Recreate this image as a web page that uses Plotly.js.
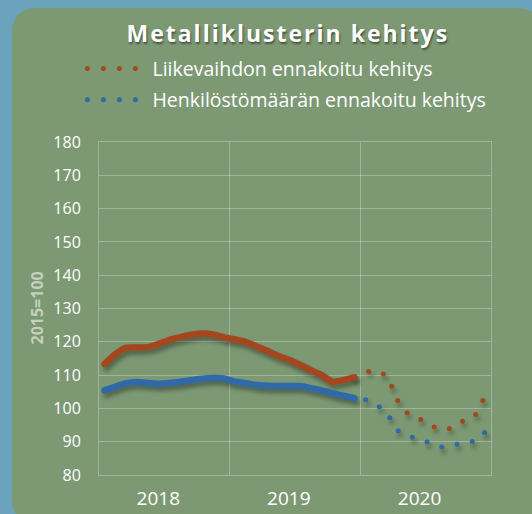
<!DOCTYPE html>
<html>
<head>
<meta charset="utf-8">
<script src="https://cdn.plot.ly/plotly-3.0.1.min.js"></script>
<style>
  html, body { margin: 0; padding: 0; background: #6ba3bd; overflow: hidden; }
  #panel {
    position: absolute; left: 12px; top: 8px; width: 530px; height: 515px;
    background: #7d9974; border-radius: 22px;
  }
  #chart { position: absolute; left: 0; top: 0; width: 532px; height: 514px; }
  .scatterlayer .js-line, .legendlines path { stroke-linecap: round; }
  .legendlines path { stroke-dasharray: 0 16 !important; }
  .scatterlayer .trace { filter: drop-shadow(2px 4px 2px rgba(0,0,0,0.35)); }
  .gtitle { letter-spacing: 2px; }
</style>
</head>
<body>
<div id="panel"></div>
<div id="chart"></div>
<script>
var monthNums = ['01', '02', '03', '04', '05', '06', '07', '08', '09', '10', '11', '12'];

// months of the history period (2018-2019) and forecast period (2020)
var histMonths = [];
['2018', '2019'].forEach(function (y) {
    monthNums.forEach(function (m) { histMonths.push(y + '-' + m); });
});
var foreMonths = monthNums.map(function (m) { return '2020-' + m; });

// Liikevaihto (turnover), 2015=100
var turnoverHist = [113.3, 116.2, 118.2, 118.3, 118.4, 119.3, 120.6, 121.4, 122.1, 122.5, 122.2, 121.3,
                    120.7, 120.0, 118.7, 117.3, 115.8, 114.6, 113.1, 111.5, 110.0, 108.0, 108.5, 109.3];
var turnoverFore = [111.0, 111.3, 109.8, 102.2, 98.0, 96.8, 94.7, 93.8, 94.0, 96.4, 97.5, 104.0];

// Henkilöstömäärä (personnel), 2015=100
var staffHist = [105.4, 106.5, 107.5, 107.9, 107.6, 107.4, 107.6, 108.0, 108.5, 108.9, 109.1, 109.0,
                 108.0, 107.6, 107.0, 106.8, 106.7, 106.7, 106.7, 106.1, 105.4, 104.5, 103.8, 103.1];
var staffFore = [102.6, 101.3, 98.5, 93.3, 91.7, 90.5, 89.4, 88.4, 89.0, 89.6, 90.2, 93.0];

var orange = '#a4471e';
var blue = '#2f69a8';
var dotted = '0px,15.5px';

var data = [
    {
        x: histMonths, y: turnoverHist, mode: 'lines', showlegend: false,
        xperiod: 'M1', xperiodalignment: 'middle',
        line: { color: orange, width: 6.5, shape: 'spline', smoothing: 0.4 }
    },
    {
        x: histMonths, y: staffHist, mode: 'lines', showlegend: false,
        xperiod: 'M1', xperiodalignment: 'middle',
        line: { color: blue, width: 6.5, shape: 'spline', smoothing: 0.4 }
    },
    {
        // forecast continues from the last actual month
        x: [histMonths[histMonths.length - 1]].concat(foreMonths),
        y: [turnoverHist[turnoverHist.length - 1]].concat(turnoverFore),
        mode: 'lines', name: 'Liikevaihdon ennakoitu kehitys', legendgroup: 'a',
        xperiod: 'M1', xperiodalignment: 'middle',
        line: { color: orange, width: 5, dash: dotted }
    },
    {
        x: foreMonths, y: staffFore,
        mode: 'lines', name: 'Henkilöstömäärän ennakoitu kehitys', legendgroup: 'b',
        xperiod: 'M1', xperiodalignment: 'middle',
        line: { color: blue, width: 5, dash: dotted }
    }
];

var gridColor = 'rgba(255,255,255,0.28)';

var layout = {
    width: 532,
    height: 514,
    margin: { l: 99, r: 41, t: 142, b: 39, autoexpand: false },
    paper_bgcolor: 'rgba(0,0,0,0)',
    plot_bgcolor: 'rgba(0,0,0,0)',
    font: { family: 'Open Sans, sans-serif', color: '#ffffff' },
    title: {
        text: '<b>Metalliklusterin kehitys</b>',
        x: 0.541, xanchor: 'center',
        y: 0.934, yanchor: 'middle',
        font: { size: 23, color: '#ffffff', shadow: '1px 2px 2px rgba(0,0,0,0.45)' }
    },
    legend: {
        xref: 'container', yref: 'container',
        x: 0.155, xanchor: 'left',
        y: 0.836, yanchor: 'middle',
        itemwidth: 60,
        tracegroupgap: 3,
        bgcolor: 'rgba(0,0,0,0)',
        font: { size: 19.5, color: '#ffffff' }
    },
    annotations: [{
        text: '<b>2015=100</b>',
        xref: 'paper', yref: 'paper',
        x: -0.1607, y: 0.5,
        xanchor: 'center', yanchor: 'middle',
        textangle: -90,
        showarrow: false,
        font: { size: 16, color: '#c5d1bf' }
    }],
    xaxis: {
        type: 'date',
        range: ['2018-01-01', '2021-01-01'],
        tick0: '2018-01-01',
        dtick: 'M12',
        tickformat: '%Y',
        ticklabelmode: 'period',
        ticklabelshift: -6,
        ticklabelstandoff: 6,
        showgrid: true,
        gridcolor: gridColor,
        showline: true, mirror: true, linecolor: gridColor,
        zeroline: false,
        tickfont: { size: 19, color: '#ffffff' },
        fixedrange: true
    },
    yaxis: {
        range: [80, 180],
        dtick: 10,
        showgrid: true,
        gridcolor: gridColor,
        showline: true, mirror: true, linecolor: gridColor,
        zeroline: false,
        ticklabelstandoff: 14,
        tickfont: { size: 16, color: '#ffffff' },
        fixedrange: true
    }
};

Plotly.newPlot('chart', data, layout, { displayModeBar: false, staticPlot: true });
</script>
</body>
</html>
